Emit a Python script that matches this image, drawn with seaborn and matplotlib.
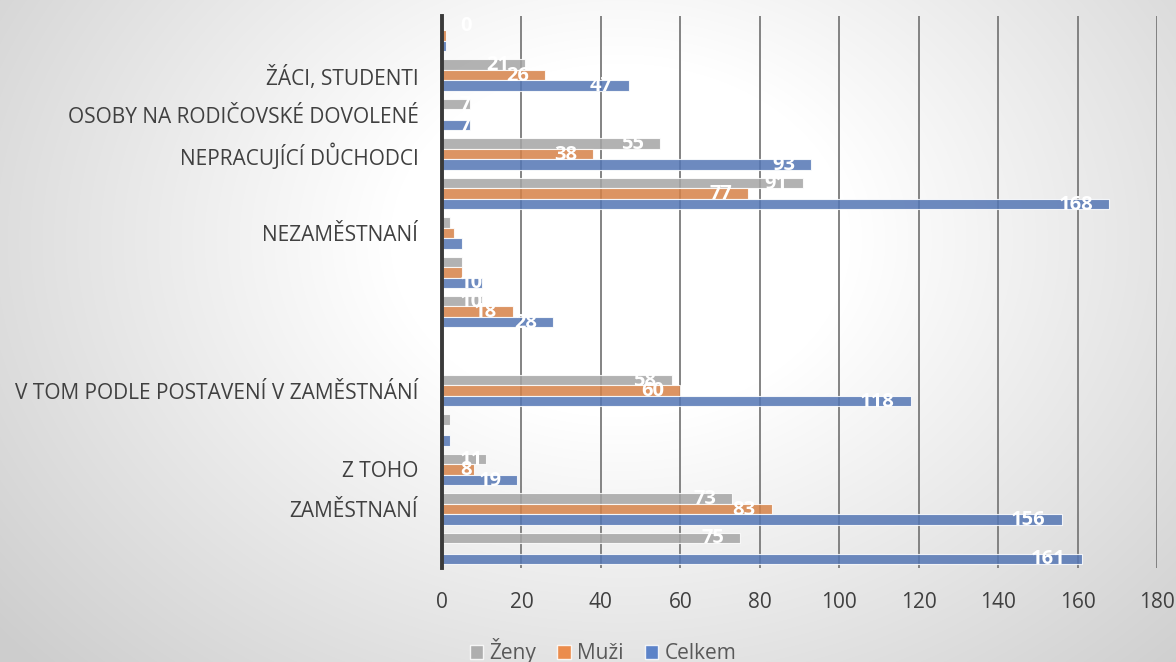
import numpy as np
import pandas as pd
import matplotlib
matplotlib.use("Agg")
import matplotlib.pyplot as plt
from matplotlib.patches import Patch
import seaborn as sns

# ---------------- data (top slot first) ----------------
slot_ids = [f"s{i:02d}" for i in range(14)]
category_labels = [
    "",
    "ŽÁCI, STUDENTI",
    "OSOBY NA RODIČOVSKÉ DOVOLENÉ",
    "NEPRACUJÍCÍ DŮCHODCI",
    "",
    "NEZAMĚSTNANÍ",
    "",
    "",
    "",
    "V TOM PODLE POSTAVENÍ V ZAMĚSTNÁNÍ",
    "",
    "Z TOHO",
    "ZAMĚSTNANÍ",
    "",
]
zeny = [0, 21, 7, 55, 91, 2, 5, 10, np.nan, 58, 2, 11, 73, 75]
muzi = [1, 26, np.nan, 38, 77, 3, 5, 18, np.nan, 60, np.nan, 8, 83, np.nan]
celkem = [1, 47, 7, 93, 168, 5, 10, 28, np.nan, 118, 2, 19, 156, 161]
series_names = ["Ženy", "Muži", "Celkem"]
series_colors = ["#A5A5A5", "#ED7D31", "#4472C4"]
x_ticks = [0, 20, 40, 60, 80, 100, 120, 140, 160, 180]

rows = []
for name, vals in zip(series_names, [zeny, muzi, celkem]):
    for sid, v in zip(slot_ids, vals):
        if not np.isnan(v):
            rows.append({"slot": sid, "series": name, "value": v})
df = pd.DataFrame(rows)

# ---------------- figure ----------------
sns.set_theme(style="white")
plt.rcParams["font.family"] = ["Open Sans", "DejaVu Sans"]

W, H, DPI = 1176, 662, 100
fig = plt.figure(figsize=(W / DPI, H / DPI), dpi=DPI)

# background radial gradient
bg = fig.add_axes([0, 0, 1, 1], zorder=-10)
yy, xx = np.mgrid[0:H, 0:W]
r = np.sqrt((xx - 620.0) ** 2 + ((yy - 240.0) * 1.3) ** 2)
t = np.clip((r - 230.0) / 580.0, 0, 1)
g = (255 - 50 * t) / 255.0
bg.imshow(np.dstack([g, g, g]), aspect="auto", extent=[0, 1, 0, 1], origin="upper")
bg.set_axis_off()

ax = fig.add_axes([442 / W, 1 - 568 / H, (1157 - 442) / W, (568 - 16) / H])
ax.set_facecolor("none")

sns.barplot(
    data=df, x="value", y="slot", hue="series",
    order=slot_ids, hue_order=series_names, palette=series_colors,
    orient="h", width=0.8, errorbar=None, alpha=0.85,
    edgecolor="white", linewidth=0.8, legend=False, ax=ax, zorder=3,
)

ax.set_xlim(0, 180)
ax.set_ylim(len(slot_ids) - 0.5, -0.5)
ax.set_xticks(x_ticks)
ax.set_xticklabels([str(v) for v in x_ticks])
ax.set_yticks(range(len(slot_ids)))
ax.set_yticklabels(category_labels)
ax.set_xlabel("")
ax.set_ylabel("")
ax.tick_params(axis="x", length=0, pad=17, labelsize=15, labelcolor="#404040")
ax.tick_params(axis="y", length=0, pad=17, labelsize=15, labelcolor="#404040")

ax.grid(axis="x", color="#7a7a7a", linewidth=1.3, zorder=0)
ax.grid(axis="y", visible=False)
ax.set_axisbelow(True)
for s in ["top", "right", "bottom"]:
    ax.spines[s].set_visible(False)
ax.spines["left"].set_color("#3a3a3a")
ax.spines["left"].set_linewidth(2.8)
ax.spines["left"].set_zorder(5)

# data labels: inside end, clamped near the axis.
# Labels of very small non-zero bars are white-on-white (invisible) in the
# original, so they are not drawn here.
fig.canvas.draw()
renderer = fig.canvas.get_renderer()
pt = 72.0 / DPI
for cont in ax.containers:
    for patch in cont:
        val = patch.get_width()
        if np.isnan(val) or (0 < val < 6):
            continue
        yc = patch.get_y() + patch.get_height() / 2
        txt = f"{int(round(val))}"
        kw = dict(textcoords="offset points", va="center", color="white",
                  fontsize=14.5, fontweight="bold", zorder=6)
        a = ax.annotate(txt, xy=(val, yc), xytext=(-16 * pt, -0.5), ha="right", **kw)
        bb = a.get_window_extent(renderer)
        x0 = ax.transData.transform((0, yc))[0]
        if bb.x0 < x0 + 18:
            a.remove()
            ax.annotate(txt, xy=(0, yc), xytext=(18 * pt, -0.5), ha="left", **kw)

handles = [Patch(facecolor=c, edgecolor="white", alpha=0.85) for c in series_colors]
fig.legend(handles, series_names, loc="center", bbox_to_anchor=(603 / W, 1 - 651 / H),
           ncol=3, frameon=False, fontsize=15, labelcolor="#595959",
           handlelength=0.65, handleheight=0.65, handletextpad=0.3, columnspacing=1.0)

fig.savefig("out.png", dpi=DPI)
